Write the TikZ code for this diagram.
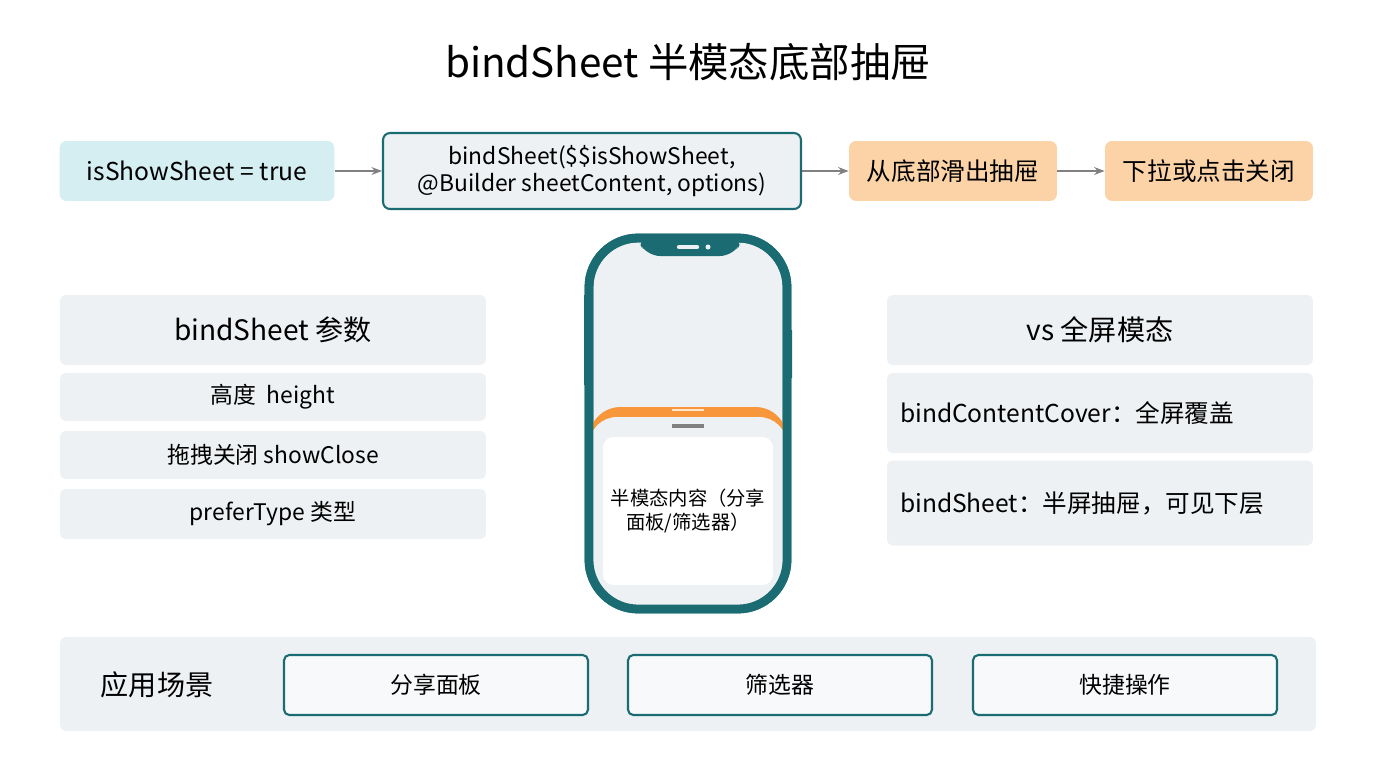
\documentclass[tikz,border=0pt]{standalone}
\usepackage{fontspec}
\setmainfont{Noto Sans CJK SC}
\usetikzlibrary{positioning, arrows.meta}
\definecolor{teal1}{HTML}{1B6B73}
\definecolor{panel}{HTML}{EEF1F3}
\definecolor{cyanbg}{HTML}{D4EEF1}
\definecolor{orangebg}{HTML}{FBD3A6}
\definecolor{orange1}{HTML}{F7963A}
\tikzset{
  flow/.style={rectangle, rounded corners=4pt, minimum height=1.2cm, text centered, font=\fontsize{14}{16}\selectfont},
  card/.style={rectangle, rounded corners=3pt, fill=panel, text centered, font=\fontsize{14}{16}\selectfont},
  usecase/.style={rectangle, rounded corners=3pt, draw=teal1, line width=1.2pt, fill=white!60!panel, minimum width=6.08cm, minimum height=1.2cm, font=\fontsize{13}{15}\selectfont},
  arrow/.style={draw=gray, line width=0.9pt, -{Stealth[length=6pt]}}
}
\begin{document}
\begin{tikzpicture}[x=0.02cm, y=-0.02cm]
\useasboundingbox (0,0) rectangle (1376,768);

% Title
\node (title) at (688,62) {\fontsize{23}{27}\selectfont bindSheet 半模态底部抽屉};

% Flow
\node (flag) [flow, fill=cyanbg, minimum width=5.5cm] at (197,171) {isShowSheet = true};
\node (call) [flow, fill=panel, draw=teal1, line width=1.2pt, minimum width=8.36cm, minimum height=1.52cm, align=center, font=\fontsize{13}{15}\selectfont] at (592,171) {bindSheet(\$\$isShowSheet,\\@Builder sheetContent, options)};
\node (slide) [flow, fill=orangebg, minimum width=4.16cm] at (953,171) {从底部滑出抽屉};
\node (close) [flow, fill=orangebg, minimum width=4.16cm] at (1209,171) {下拉或点击关闭};
\draw [arrow] (flag) -- (call);
\draw [arrow] (call) -- (slide);
\draw [arrow] (slide) -- (close);

% Parameters
\node (params) [card, minimum width=8.52cm, minimum height=1.4cm, font=\fontsize{16}{19}\selectfont] at (273,330) {bindSheet 参数};
\node (height) [card, minimum width=8.52cm, minimum height=0.96cm, font=\fontsize{13}{15}\selectfont] at (273,397) {高度\ \ height};
\node (drag) [card, minimum width=8.52cm, minimum height=0.96cm, font=\fontsize{13}{15}\selectfont] at (273,455) {拖拽关闭 showClose};
\node (prefer) [card, minimum width=8.52cm, minimum height=1.0cm, font=\fontsize{13}{15}\selectfont] at (273,514) {preferType 类型};

% Comparison
\node (vs) [card, minimum width=8.52cm, minimum height=1.4cm, font=\fontsize{16}{19}\selectfont] at (1100,330) {vs 全屏模态};
\node (cover) [card, minimum width=8.52cm, minimum height=1.6cm, text width=8cm, align=left] at (1100,413) {bindContentCover：全屏覆盖};
\node (sheet) [card, minimum width=8.52cm, minimum height=1.7cm, text width=8cm, align=left] at (1100,503) {bindSheet：半屏抽屉，可见下层};

% Phone
\fill [teal1] (584,295) rectangle (590,340) (584,322) rectangle (590,385) (786,330) rectangle (792,378);
\draw [teal1, line width=5pt, fill=panel, rounded corners=28pt] (589,238) rectangle (787,609);
\begin{scope}
  \clip [rounded corners=26pt] (589,238) rectangle (787,609);
  \fill [orange1, rounded corners=18pt] (589,640) -- (589,407) -- (787,407) -- (787,640) -- cycle;
  \fill [panel, rounded corners=16pt] (589,640) -- (589,417) -- (787,417) -- (787,640) -- cycle;
\end{scope}
\fill [teal1, rounded corners=8pt] (636,236) -- (646,256) -- (734,256) -- (744,236) -- cycle;
\draw [panel, line width=2.5pt, line cap=round] (679,247) -- (697,247);
\fill [panel] (708,247) circle (2.5);
\draw [white!75!orange1, line width=1.5pt] (672,410) -- (704,410);
\draw [gray, line width=2pt] (672,426) -- (704,426);
\node (content) [fill=white, rounded corners=6pt, minimum width=3.4cm, minimum height=2.96cm, align=center, font=\fontsize{11}{14}\selectfont] at (688,511) {半模态内容（分享\\面板/筛选器）};
\draw [teal1, line width=5pt, rounded corners=28pt] (589,238) rectangle (787,609);

% Use cases
\node (usage) [card, minimum width=25.12cm, minimum height=1.88cm] at (688,684) {};
\node (usagelabel) [font=\fontsize{16}{19}\selectfont] at (157,685) {应用场景};
\node (share) [usecase] at (436,685) {分享面板};
\node (filter) [usecase] at (780,685) {筛选器};
\node (quick) [usecase] at (1125,685) {快捷操作};

\end{tikzpicture}
\end{document}
